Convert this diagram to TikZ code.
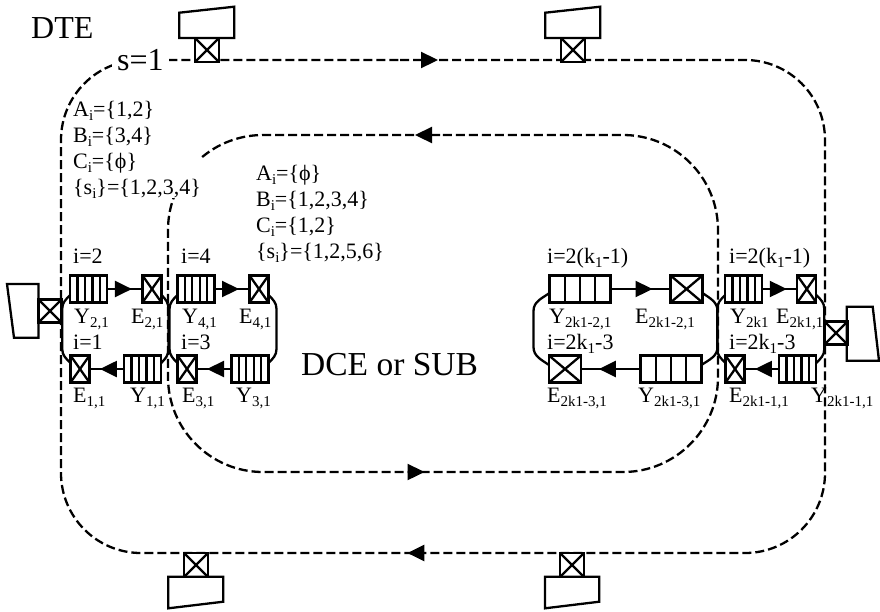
\documentclass[tikz,border=0pt]{standalone}
\usepackage{fontspec}
\setmainfont{Liberation Serif}
\usepackage{tikz}
\usetikzlibrary{arrows.meta,calc,decorations.markings}
\newcommand{\sbs}[1]{\raisebox{-4pt}{\fontsize{15}{15}\selectfont #1}}
\tikzset{
  flowtip/.tip={Triangle[length=17pt,width=16pt]},
  xbox/.style={draw,fill=white,inner sep=0pt,outer sep=0pt,
    path picture={\draw (path picture bounding box.south west) -- (path picture bounding box.north east)
      (path picture bounding box.north west) -- (path picture bounding box.south east);}},
  gate/.style={xbox,minimum width=#1,minimum height=27pt},
  port/.style={xbox,minimum width=23pt,minimum height=23pt},
  qbox/.style 2 args={draw,fill=white,inner sep=0pt,outer sep=0pt,minimum width=#2,minimum height=27pt,
    path picture={\foreach \q in {1,...,#1}
      \draw ($(path picture bounding box.south west)!{\q/(#1+1)}!(path picture bounding box.south east)$) --
        ($(path picture bounding box.north west)!{\q/(#1+1)}!(path picture bounding box.north east)$);}},
  smallq/.style={qbox={4}{37pt}},
  bigq/.style={qbox={3}{61pt}},
  flow/.style={postaction={decorate,decoration={markings,mark=at position .7 with {\arrow{flowtip}}}}},
  loopline/.style 2 args={dash pattern=on 9pt off 4pt,
    postaction={decorate,decoration={markings,mark=at position #1 with {\arrow{flowtip}},
      mark=at position #2 with {\arrow{flowtip}}}}},
  lbl/.style={anchor=base west,inner sep=0pt,font=\fontsize{22}{26}\selectfont},
  biglbl/.style={anchor=base west,inner sep=0pt,font=\fontsize{32}{36}\selectfont},
  sets/.style={anchor=north west,inner sep=0pt,align=left,font=\fontsize{22}{26}\selectfont}
}
\begin{document}
\begin{tikzpicture}[x=1pt,y=-1pt,line width=2.3pt]
\useasboundingbox (0,0) rectangle (880,611);
% dashed loops
\coordinate (oStart) at (400,60);
\coordinate (oTR) at (825,60);
\coordinate (oBR) at (825,553);
\coordinate (oBL) at (61,553);
\coordinate (oTL) at (61,60);
\draw[rounded corners=80pt,loopline={38pt}{1267pt}] (oStart) -- (oTR) -- (oBR) -- (oBL) -- (oTL) -- (oStart);
\coordinate (iStart) at (440,135);
\coordinate (iTL) at (168,135);
\coordinate (iBL) at (168,472);
\coordinate (iBR) at (718,472);
\coordinate (iTR) at (718,135);
\draw[rounded corners=95pt,loopline={25pt}{784pt}] (iStart) -- (iTL) -- (iBL) -- (iBR) -- (iTR) -- (iStart);
% upper row
\node[smallq] (y21) at (88.7,289) {};
\node[gate=19pt] (e21) at (152,289) {};
\node[smallq] (y41) at (196,289) {};
\node[gate=19pt] (e41) at (259,289) {};
\node[bigq] (y2k2) at (580,289) {};
\node[gate=32pt] (e2k2) at (686.5,289) {};
\node[smallq] (y2k) at (743.7,289) {};
\node[gate=19pt] (e2k) at (806.8,289) {};
% lower row
\node[gate=19pt] (e11) at (80,369) {};
\node[smallq] (y11) at (142.7,369) {};
\node[gate=19pt] (e31) at (187,369) {};
\node[smallq] (y31) at (250,369) {};
\node[gate=32pt] (e2k3) at (565,369) {};
\node[bigq] (y2k3) at (671,369) {};
\node[gate=19pt] (e2k1) at (735,369) {};
\node[smallq] (y2k1) at (797.7,369) {};
% queue to gate
\foreach \a/\b in {y21/e21,y41/e41,y2k2/e2k2,y2k/e2k}
  \draw[flow] (\a.east) -- (\b.west);
\foreach \a/\b in {y11/e11,y31/e31,y2k3/e2k3,y2k1/e2k1}
  \draw[flow] (\a.west) -- (\b.east);
% rings
\draw ([yshift=-6pt]y21.west) to[out=225,in=90] ++(-8,14) -- ++(0,40) to[out=-90,in=135] ([yshift=6pt]e11.west);
\draw ([yshift=-6pt]e21.east) to[out=-45,in=90] ++(7,14) -- ++(0,40) to[out=-90,in=45] ([yshift=6pt]y11.east);
\draw ([yshift=-6pt]y41.west) to[out=225,in=90] ++(-8,14) -- ++(0,40) to[out=-90,in=135] ([yshift=6pt]e31.west);
\draw ([yshift=-6pt]e41.east) to[out=-45,in=90] ++(8,14) -- ++(0,40) to[out=-90,in=45] ([yshift=6pt]y31.east);
\draw ([yshift=-4pt]y2k2.west) to[out=215,in=90] ++(-16,18) -- ++(0,36) to[out=-90,in=145] ([yshift=4pt]e2k3.west);
\draw ([yshift=-4pt]e2k2.east) to[out=-35,in=90] ++(15,18) -- ++(0,36) to[out=-90,in=35] ([yshift=4pt]y2k3.east);
\draw ([yshift=-6pt]y2k.west) to[out=225,in=90] ++(-8,14) -- ++(0,40) to[out=-90,in=135] ([yshift=6pt]e2k1.west);
\draw ([yshift=-6pt]e2k.east) to[out=-45,in=90] ++(8,14) -- ++(0,40) to[out=-90,in=45] ([yshift=6pt]y2k1.east);
% ports
\node[port] (pLeft) at (50,311) {};
\draw (38.5,284) -- (7,284) -- (14,337.7) -- (38.5,337.7) -- cycle;
\node[port] (pRight) at (836,333) {};
\draw (846.7,306.7) -- (872.7,306.7) -- (879,360.7) -- (846.7,360.7) -- cycle;
\node[port,minimum width=24pt,minimum height=24pt] (pTopA) at (207,50) {};
\draw (179.3,12.7) -- (234.3,6.7) -- (234.3,38) -- (179.3,38) -- cycle;
\node[port,minimum width=24pt,minimum height=24pt] (pTopB) at (573,50) {};
\draw (545.3,12.7) -- (600.3,6.7) -- (600.3,38) -- (545.3,38) -- cycle;
\node[port,minimum width=24pt,minimum height=24pt] (pBotA) at (196,565) {};
\draw (168.3,576.7) -- (223.3,576.7) -- (223.3,601.7) -- (168.3,608.3) -- cycle;
\node[port,minimum width=24pt,minimum height=24pt] (pBotB) at (572,565) {};
\draw (545,576.7) -- (599.3,576.7) -- (599.3,601.7) -- (545,608.3) -- cycle;
% texts
\node[biglbl] (tDte) at (30,38) {DTE};
\node[biglbl,fill=white,inner xsep=5pt] (tS) at (111,70) {s=1};
\node[biglbl,font=\fontsize{33.5}{36}\selectfont] (tDce) at (300,375) {DCE or SUB};
\node[sets,fill=white] (tSetA) at (72,100) {A\sbs{i}=\{1,2\}\\B\sbs{i}=\{3,4\}\\C\sbs{i}=\{ϕ\}\\\{s\sbs{i}\}=\{1,2,3,4\}};
\node[sets] (tSetB) at (255,164) {A\sbs{i}=\{ϕ\}\\B\sbs{i}=\{1,2,3,4\}\\C\sbs{i}=\{1,2\}\\\{s\sbs{i}\}=\{1,2,5,6\}};
\node[lbl] (tI2) at (72,263) {i=2};
\node[lbl] (tI4) at (180,263) {i=4};
\node[lbl] (tI1) at (72,349) {i=1};
\node[lbl] (tI3) at (180,349) {i=3};
\node[lbl] (tIk) at (546,263) {i=2(k\sbs{1}-1)};
\node[lbl] (tIkb) at (728,263) {i=2(k\sbs{1}-1)};
\node[lbl] (tIm) at (546,349) {i=2k\sbs{1}-3};
\node[lbl] (tImb) at (728,349) {i=2k\sbs{1}-3};
\node[lbl] (tY21) at (73,323) {Y\sbs{2,1}};
\node[lbl] (tE21) at (130,323) {E\sbs{2,1}};
\node[lbl] (tY41) at (181,323) {Y\sbs{4,1}};
\node[lbl] (tE41) at (238,323) {E\sbs{4,1}};
\node[lbl] (tE11) at (72,402) {E\sbs{1,1}};
\node[lbl] (tY11) at (129,402) {Y\sbs{1,1}};
\node[lbl] (tE31) at (181,402) {E\sbs{3,1}};
\node[lbl] (tY31) at (235,402) {Y\sbs{3,1}};
\node[lbl] (tY2k2) at (548,323) {Y\sbs{2k1-2,1}};
\node[lbl] (tE2k2) at (634,323) {E\sbs{2k1-2,1}};
\node[lbl] (tY2k) at (729,323) {Y\sbs{2k1}};
\node[lbl] (tE2k) at (775,323) {E\sbs{2k1,1}};
\node[lbl] (tE2k3) at (546,402) {E\sbs{2k1-3,1}};
\node[lbl] (tY2k3) at (637,402) {Y\sbs{2k1-3,1}};
\node[lbl] (tE2k1) at (728,402) {E\sbs{2k1-1,1}};
\node[lbl] (tY2k1) at (810,402) {Y\sbs{2k1-1,1}};
\end{tikzpicture}
\end{document}
